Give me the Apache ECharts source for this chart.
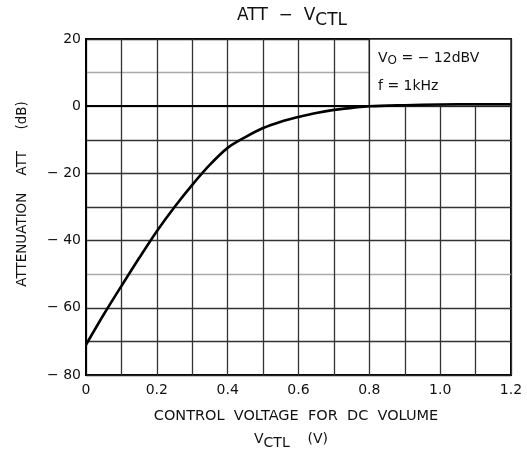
<!DOCTYPE html>
<html>
<head>
<meta charset="utf-8">
<script src="https://cdn.jsdelivr.net/npm/echarts@6/dist/echarts.min.js"></script>
<style>
  html, body { margin: 0; padding: 0; background: #fff; }
  #chart { width: 527px; height: 450px; }
</style>
</head>
<body>
<div id="chart"></div>
<script>
// Control voltage (V) and the resulting attenuation (dB)
const vctl = [0, 0.05, 0.1, 0.15, 0.2, 0.25, 0.3, 0.35, 0.4, 0.45, 0.5, 0.55, 0.6, 0.65, 0.7, 0.75, 0.8, 0.9, 1.0, 1.1, 1.2];
const att  = [-71, -62, -53.5, -45.2, -37.2, -30, -23.4, -17.4, -12.4, -9.2, -6.5, -4.6, -3.2, -2.0, -1.1, -0.5, 0, 0.3, 0.5, 0.6, 0.6];

const xTickLabels = ['0', '', '0.2', '', '0.4', '', '0.6', '', '0.8', '', '1.0', '', '1.2'];
const yTickLabels = ['\u2212 80', '', '\u2212 60', '', '\u2212 40', '', '\u2212 20', '', '0', '', '20'];

// Horizontal rule colours from -80 up to 20 (lighter rules at -50, 0 and 10)
const hRuleColors = ['#222', '#333', '#333', '#aaa', '#333', '#333', '#333', '#333', '#777', '#aaa', '#222'];

const FONT = 'DejaVu Sans';

const chart = echarts.init(document.getElementById('chart'), null, { renderer: 'canvas' });

chart.setOption({
  backgroundColor: '#fff',
  animation: false,
  textStyle: { fontFamily: FONT, color: '#111' },
  grid: {
    left: 86, right: 16, top: 39, bottom: 75,
    show: true, borderColor: '#000', borderWidth: 2, backgroundColor: 'transparent'
  },
  xAxis: {
    type: 'value', min: 0, max: 1.2, interval: 0.1,
    axisLine: { show: true, lineStyle: { color: '#000', width: 2 } },
    axisTick: { show: false },
    splitLine: { show: true, lineStyle: { color: '#333', width: 1.3 } },
    axisLabel: {
      fontFamily: FONT, fontSize: 14, color: '#111', margin: 8,
      formatter: (v) => xTickLabels[Math.round(v * 10)] || ''
    }
  },
  yAxis: {
    type: 'value', min: -80, max: 20, interval: 10,
    axisLine: { show: true, lineStyle: { color: '#000', width: 2 } },
    axisTick: { show: false },
    splitLine: { show: true, lineStyle: { color: hRuleColors, width: 1.3 } },
    axisLabel: {
      fontFamily: FONT, fontSize: 14, color: '#111', margin: 5,
      formatter: (v) => yTickLabels[Math.round((v + 80) / 10)] || ''
    }
  },
  graphic: [
    {
      // chart heading
      type: 'text', z: 100,
      style: {
        text: 'ATT  \u2212  V{s|CTL}',
        font: '17px "DejaVu Sans"', fill: '#111', align: 'center',
        rich: { s: { font: '17px "DejaVu Sans"', padding: [9, 0, 0, 0], fill: '#111' } }
      },
      x: 292, y: 3
    },
    {
      type: 'text', z: 100, rotation: Math.PI / 2,
      style: {
        text: 'ATTENUATION    ATT     (dB)',
        font: '13.5px "DejaVu Sans"', fill: '#111',
        align: 'center', verticalAlign: 'middle'
      },
      x: 22, y: 194
    },
    {
      type: 'text', z: 100,
      style: {
        text: 'CONTROL  VOLTAGE  FOR  DC  VOLUME',
        font: '14.5px "DejaVu Sans"', fill: '#111', align: 'center', verticalAlign: 'middle'
      },
      x: 296, y: 416
    },
    {
      type: 'text', z: 100,
      style: {
        text: 'V{s|CTL}    (V)',
        font: '14px "DejaVu Sans"', fill: '#111', align: 'center',
        rich: { s: { font: '14px "DejaVu Sans"', padding: [8, 0, 0, 0], fill: '#111' } }
      },
      x: 291, y: 428
    },
    {
      type: 'text', z: 100,
      style: {
        text: 'V{s|O} = \u2212 12dBV',
        font: '14px "DejaVu Sans"', fill: '#111',
        rich: { s: { font: '12px "DejaVu Sans"', padding: [6, 0, 0, 0], fill: '#111' } }
      },
      x: 378, y: 49
    },
    {
      type: 'text', z: 100,
      style: {
        text: 'f = 1kHz',
        font: '14px "DejaVu Sans"', fill: '#111'
      },
      x: 378, y: 79
    }
  ],
  series: [{
    type: 'line',
    data: vctl.map((v, i) => [v, att[i]]),
    smooth: 0.3,
    showSymbol: false,
    lineStyle: { color: '#000', width: 2.6 },
    z: 5,
    markArea: {
      silent: true,
      itemStyle: { color: '#fff', borderColor: '#222', borderWidth: 1.5 },
      data: [[{ coord: [0.8, 0] }, { coord: [1.2, 20] }]]
    }
  }]
});
</script>
</body>
</html>
